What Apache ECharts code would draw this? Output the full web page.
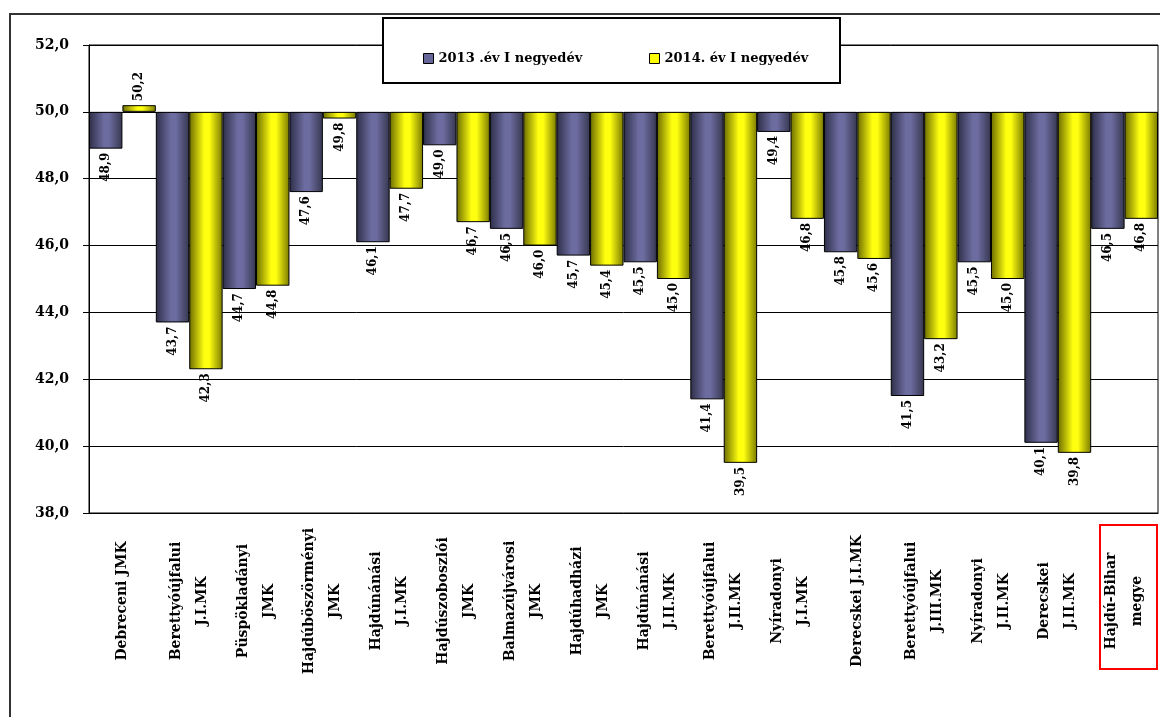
<!DOCTYPE html>
<html>
<head>
<meta charset="utf-8">
<script src="https://cdn.jsdelivr.net/npm/echarts@6/dist/echarts.min.js"></script>
<style>
html,body{margin:0;padding:0;background:#fff;}
#chart{width:1160px;height:717px;}
</style>
</head>
<body>
<div id="chart"></div>
<script>
const categories = [
  "Debreceni JMK",
  "Berettyóújfalui\nJ.I.MK",
  "Püspökladányi\nJMK",
  "Hajdúböszörményi\nJMK",
  "Hajdúnánási\nJ.I.MK",
  "Hajdúszoboszlói\nJMK",
  "Balmazújvárosi\nJMK",
  "Hajdúhadházi\nJMK",
  "Hajdúnánási\nJ.II.MK",
  "Berettyóújfalui\nJ.II.MK",
  "Nyíradonyi\nJ.I.MK",
  "Derecskei J.I.MK",
  "Berettyóújfalui\nJ.III.MK",
  "Nyíradonyi\nJ.II.MK",
  "Derecskei\nJ.II.MK",
  "Hajdú-Bihar\nmegye"
];
const values2013 = [48.9, 43.7, 44.7, 47.6, 46.1, 49.0, 46.5, 45.7, 45.5, 41.4, 49.4, 45.8, 41.5, 45.5, 40.1, 46.5];
const values2014 = [50.2, 42.3, 44.8, 49.8, 47.7, 46.7, 46.0, 45.4, 45.0, 39.5, 46.8, 45.6, 43.2, 45.0, 39.8, 46.8];
const seriesNames = ["2013 .év I negyedév", "2014. év I negyedév"];
const baseLine = 50;
const yMin = 38, yMax = 52, yInterval = 2;

const FONT = "DejaVu Serif";
function fmt(v){ return v.toFixed(1).replace('.', ','); }

function grad(dark, light, dark2){
  return {type:'linear', x:0, y:0, x2:1, y2:0, colorStops:[
    {offset:0, color:dark},{offset:0.45, color:light},{offset:0.6, color:light},{offset:1, color:dark2}
  ]};
}

function makeSeries(name, values, stack, color){
  const base = {
    name: name + '_base', type:'bar', stack: stack, silent:true,
    data: values.map(v => Math.min(v, baseLine)),
    itemStyle:{color:'rgba(0,0,0,0)'}, label:{show:false}
  };
  const vis = {
    name: name, type:'bar', stack: stack,
    data: values.map(v => {
      const item = {value: Math.abs(v - baseLine)};
      if (v >= baseLine) item.label = {position:'top', align:'left'};
      return item;
    }),
    itemStyle:{color: color, borderColor:'#000', borderWidth:1},
    label:{
      show:true, position:'bottom', rotate:90, align:'right', verticalAlign:'middle',
      distance:4, fontFamily:FONT, fontWeight:'bold', fontSize:12, color:'#000',
      formatter: p => fmt(values[p.dataIndex])
    }
  };
  return [base, vis];
}

const chart = echarts.init(document.getElementById('chart'));
chart.setOption({
  backgroundColor:'#fff',
  animation:false,
  grid:{left:89, right:2, top:45, bottom:204, show:true, borderColor:'#000', borderWidth:1, backgroundColor:'transparent'},
  legend:[
    {data:[{name:seriesNames[0], itemStyle:{color:'#666699', borderColor:'#000', borderWidth:1}}], left:418, top:47, z:20,
     icon:'rect', itemWidth:10, itemHeight:10, itemGap:4,
     textStyle:{fontFamily:FONT, fontWeight:'bold', fontSize:13, color:'#000'}},
    {data:[{name:seriesNames[1], itemStyle:{color:'#ffff00', borderColor:'#000', borderWidth:1}}], left:644, top:47, z:20,
     icon:'rect', itemWidth:10, itemHeight:10, itemGap:4,
     textStyle:{fontFamily:FONT, fontWeight:'bold', fontSize:13, color:'#000'}}
  ],
  xAxis:{
    type:'category', data:categories,
    axisLine:{lineStyle:{color:'#000', width:1}},
    axisTick:{show:false},
    axisLabel:{interval:0, rotate:90, align:'center', verticalAlign:'middle', margin:88,
      lineHeight:26, fontFamily:FONT, fontWeight:'bold', fontSize:14, color:'#000'}
  },
  yAxis:{
    type:'value', min:yMin, max:yMax, interval:yInterval,
    axisLine:{show:true, lineStyle:{color:'#000', width:1}},
    axisTick:{show:true, length:6, lineStyle:{color:'#000'}},
    splitLine:{lineStyle:{color:'#000', width:1}},
    axisLabel:{margin:20, fontFamily:FONT, fontWeight:'bold', fontSize:14, color:'#000',
      formatter: v => fmt(v)}
  },
  series:[
    ...makeSeries(seriesNames[0], values2013, 's13', grad('#2e2e48', '#6c6ca0', '#36364f')),
    ...makeSeries(seriesNames[1], values2014, 's14', grad('#6b6b00', '#ffff10', '#7a7a00'))
  ].map(s => Object.assign(s, {barGap:'0%', barCategoryGap:'0%'})),
  graphic:[
    {type:'rect', shape:{x:10, y:14, width:1200, height:800}, style:{fill:'none', stroke:'#333', lineWidth:2}, z:1, silent:true},
    {type:'rect', shape:{x:383, y:18, width:457, height:65}, style:{fill:'#fff', stroke:'#000', lineWidth:2}, z:10, silent:true},
    {type:'rect', shape:{x:1100, y:525, width:57, height:144}, style:{fill:'none', stroke:'#ff0000', lineWidth:2}, z:10, silent:true}
  ]
});
</script>
</body>
</html>
